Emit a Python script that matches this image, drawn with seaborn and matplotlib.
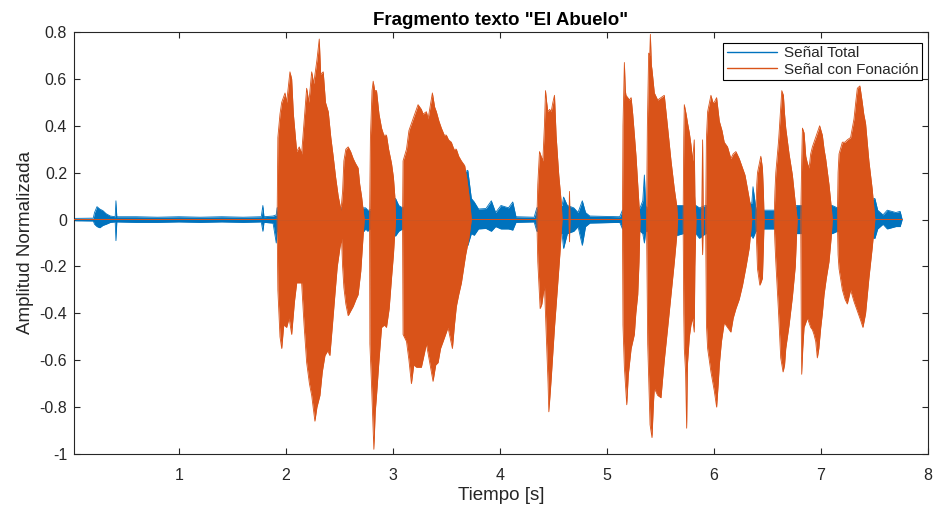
import numpy as np
import pandas as pd
import matplotlib
matplotlib.use("Agg")
import matplotlib.pyplot as plt
from matplotlib.lines import Line2D
import seaborn as sns

# ---------------- data (envelopes) ----------------
TITLE = 'Fragmento texto "El Abuelo"'
XLABEL = "Tiempo [s]"
YLABEL = "Amplitud Normalizada"
SERIES = ["Señal Total", "Señal con Fonación"]
XTICKS = [1, 2, 3, 4, 5, 6, 7, 8]
YTICKS = [0.8, 0.6, 0.4, 0.2, 0, -0.2, -0.4, -0.6, -0.8, -1]
YTICKLABELS = ["0.8", "0.6", "0.4", "0.2", "0", "-0.2", "-0.4", "-0.6", "-0.8", "-1"]

# Señal Total: time, upper envelope, lower envelope (visible unvoiced parts)
total_env = np.array([
    [0.030, 0.005, -0.005], [0.200, 0.006, -0.006], [0.212, 0.030, -0.020],
    [0.235, 0.055, -0.030], [0.260, 0.045, -0.035], [0.290, 0.038, -0.025],
    [0.320, 0.025, -0.020], [0.360, 0.015, -0.012], [0.405, 0.012, -0.010],
    [0.412, 0.080, -0.090], [0.420, 0.012, -0.010], [0.600, 0.012, -0.012],
    [0.800, 0.010, -0.012], [1.000, 0.012, -0.010], [1.200, 0.010, -0.012],
    [1.400, 0.012, -0.010], [1.600, 0.010, -0.012], [1.770, 0.012, -0.010],
    [1.785, 0.060, -0.050], [1.795, 0.012, -0.012], [1.880, 0.015, -0.015],
    [1.910, 0.020, -0.100], [1.918, 0.050, -0.050], [2.730, 0.050, -0.050],
    [2.745, 0.050, -0.040], [2.765, 0.040, -0.050], [2.782, 0.040, -0.040],
    [3.025, 0.090, -0.070], [3.055, 0.060, -0.050], [3.090, 0.050, -0.040],
    [3.700, 0.210, -0.110], [3.733, 0.090, -0.060], [3.760, 0.075, -0.067],
    [3.800, 0.045, -0.040], [3.870, 0.047, -0.038], [3.920, 0.080, -0.050],
    [3.960, 0.030, -0.030], [4.010, 0.060, -0.040], [4.080, 0.050, -0.040],
    [4.120, 0.075, -0.045], [4.150, 0.012, -0.012], [4.320, 0.010, -0.010],
    [4.345, 0.050, -0.050], [4.581, 0.060, -0.060], [4.595, 0.096, -0.123],
    [4.630, 0.060, -0.060], [4.690, 0.050, -0.050], [4.730, 0.030, -0.030],
    [4.770, 0.080, -0.110], [4.800, 0.030, -0.030], [4.840, 0.015, -0.015],
    [5.120, 0.012, -0.012], [5.145, 0.040, -0.040], [5.310, 0.050, -0.050],
    [5.335, 0.080, -0.060], [5.350, 0.190, -0.100], [5.362, 0.060, -0.050],
    [5.370, 0.050, -0.050], [5.661, 0.060, -0.067], [5.712, 0.060, -0.060],
    [5.832, 0.060, -0.060], [5.864, 0.050, -0.080], [5.922, 0.060, -0.060],
    [6.354, 0.070, -0.070], [6.365, 0.140, -0.080], [6.391, 0.050, -0.050],
    [6.469, 0.040, -0.040], [6.562, 0.040, -0.040], [6.778, 0.060, -0.060],
    [6.811, 0.060, -0.060], [7.106, 0.060, -0.060], [7.153, 0.050, -0.050],
    [7.504, 0.090, -0.080], [7.530, 0.040, -0.040], [7.580, 0.020, -0.020],
    [7.620, 0.040, -0.040], [7.700, 0.030, -0.030], [7.740, 0.035, -0.030],
    [7.759, 0.000, 0.000],
])

# Señal con Fonación: upper envelope (time, value)
voiced_upper = np.array([
    [0.020, 0.00], [1.918, 0.00], [1.925, 0.35], [1.945, 0.45], [1.961, 0.50],
    [1.992, 0.54], [2.007, 0.50], [2.038, 0.63], [2.054, 0.60], [2.070, 0.45],
    [2.101, 0.29], [2.125, 0.31], [2.147, 0.28], [2.170, 0.42], [2.194, 0.56],
    [2.215, 0.50], [2.241, 0.63], [2.260, 0.58], [2.290, 0.68], [2.312, 0.77],
    [2.325, 0.62], [2.349, 0.63], [2.370, 0.50], [2.396, 0.46], [2.420, 0.35],
    [2.442, 0.27], [2.465, 0.18], [2.489, 0.10], [2.515, 0.04], [2.530, 0.12],
    [2.542, 0.25], [2.560, 0.30], [2.582, 0.31], [2.605, 0.29], [2.629, 0.26],
    [2.650, 0.24], [2.675, 0.22], [2.690, 0.15], [2.707, 0.10], [2.725, 0.03],
    [2.732, 0.00], [2.782, 0.00], [2.790, 0.35], [2.805, 0.55], [2.816, 0.59],
    [2.830, 0.55], [2.847, 0.55], [2.870, 0.45], [2.894, 0.39], [2.915, 0.36],
    [2.940, 0.36], [2.960, 0.30], [2.987, 0.24], [3.005, 0.18], [3.018, 0.10],
    [3.025, 0.00], [3.090, 0.00], [3.095, 0.25], [3.127, 0.30], [3.150, 0.38],
    [3.189, 0.43], [3.220, 0.47], [3.235, 0.49], [3.266, 0.47], [3.282, 0.45],
    [3.313, 0.46], [3.329, 0.43], [3.369, 0.54], [3.390, 0.48], [3.406, 0.46],
    [3.430, 0.42], [3.453, 0.39], [3.480, 0.36], [3.500, 0.36], [3.520, 0.34],
    [3.546, 0.33], [3.570, 0.30], [3.593, 0.30], [3.615, 0.27], [3.640, 0.25],
    [3.671, 0.23], [3.692, 0.17], [3.717, 0.08], [3.733, 0.00], [4.345, 0.00],
    [4.354, 0.15], [4.370, 0.29], [4.385, 0.27], [4.401, 0.25], [4.416, 0.40],
    [4.426, 0.55], [4.437, 0.50], [4.448, 0.46], [4.465, 0.47], [4.479, 0.46],
    [4.495, 0.50], [4.510, 0.53], [4.525, 0.36], [4.541, 0.25], [4.550, 0.19],
    [4.572, 0.08], [4.581, 0.00], [4.645, 0.00], [4.650, 0.12], [4.655, 0.00],
    [5.145, 0.00], [5.150, 0.40], [5.163, 0.67], [5.172, 0.55], [5.178, 0.53],
    [5.195, 0.52], [5.209, 0.51], [5.226, 0.52], [5.241, 0.45], [5.257, 0.36],
    [5.272, 0.27], [5.288, 0.15], [5.300, 0.06], [5.310, 0.00], [5.370, 0.00],
    [5.378, 0.40], [5.390, 0.71], [5.400, 0.70], [5.406, 0.79], [5.415, 0.66],
    [5.421, 0.64], [5.443, 0.54], [5.474, 0.51], [5.505, 0.52], [5.536, 0.53],
    [5.552, 0.46], [5.568, 0.39], [5.599, 0.25], [5.630, 0.13], [5.652, 0.06],
    [5.661, 0.00], [5.712, 0.00], [5.718, 0.35], [5.723, 0.49], [5.740, 0.45],
    [5.754, 0.41], [5.770, 0.37], [5.785, 0.32], [5.801, 0.25], [5.816, 0.34],
    [5.822, 0.10], [5.832, 0.00], [5.885, 0.00], [5.894, 0.34], [5.900, 0.00],
    [5.922, 0.00], [5.930, 0.35], [5.941, 0.46], [5.972, 0.53], [5.990, 0.50],
    [6.003, 0.50], [6.025, 0.52], [6.050, 0.42], [6.075, 0.38], [6.096, 0.33],
    [6.127, 0.31], [6.158, 0.26], [6.180, 0.28], [6.205, 0.29], [6.236, 0.26],
    [6.267, 0.22], [6.290, 0.19], [6.314, 0.13], [6.345, 0.05], [6.354, 0.00],
    [6.391, 0.00], [6.400, 0.15], [6.407, 0.20], [6.429, 0.25], [6.438, 0.27],
    [6.453, 0.22], [6.462, 0.12], [6.469, 0.00], [6.562, 0.00], [6.570, 0.12],
    [6.578, 0.20], [6.603, 0.33], [6.609, 0.37], [6.624, 0.48], [6.634, 0.55],
    [6.649, 0.53], [6.660, 0.45], [6.671, 0.39], [6.702, 0.28], [6.733, 0.19],
    [6.758, 0.08], [6.778, 0.00], [6.811, 0.00], [6.820, 0.25], [6.827, 0.39],
    [6.842, 0.37], [6.858, 0.27], [6.873, 0.24], [6.889, 0.22], [6.904, 0.28],
    [6.920, 0.31], [6.935, 0.33], [6.951, 0.35], [6.966, 0.37], [6.988, 0.40],
    [7.000, 0.38], [7.013, 0.36], [7.029, 0.30], [7.044, 0.26], [7.075, 0.15],
    [7.095, 0.06], [7.106, 0.00], [7.153, 0.00], [7.160, 0.20], [7.169, 0.28],
    [7.200, 0.33], [7.225, 0.33], [7.246, 0.34], [7.277, 0.35], [7.309, 0.43],
    [7.325, 0.50], [7.340, 0.56], [7.364, 0.57], [7.386, 0.50], [7.400, 0.45],
    [7.417, 0.41], [7.448, 0.25], [7.479, 0.13], [7.495, 0.05], [7.504, 0.00],
    [7.759, 0.00],
])

# Señal con Fonación: lower envelope (time, value)
voiced_lower = np.array([
    [0.020, 0.00], [1.918, 0.00], [1.925, -0.30], [1.945, -0.50], [1.961, -0.55],
    [1.980, -0.45], [2.007, -0.46], [2.030, -0.42], [2.054, -0.49], [2.080, -0.35],
    [2.101, -0.27], [2.147, -0.27], [2.170, -0.45], [2.194, -0.61], [2.220, -0.70],
    [2.241, -0.75], [2.271, -0.86], [2.290, -0.80], [2.318, -0.75], [2.340, -0.65],
    [2.365, -0.58], [2.390, -0.56], [2.411, -0.58], [2.435, -0.45], [2.458, -0.32],
    [2.480, -0.20], [2.505, -0.12], [2.520, -0.08], [2.530, -0.20], [2.542, -0.29],
    [2.560, -0.36], [2.582, -0.41], [2.605, -0.39], [2.629, -0.37], [2.655, -0.34],
    [2.675, -0.32], [2.700, -0.22], [2.720, -0.08], [2.732, 0.00], [2.782, 0.00],
    [2.785, -0.53], [2.800, -0.70], [2.822, -0.98], [2.835, -0.82], [2.847, -0.75],
    [2.870, -0.60], [2.894, -0.46], [2.920, -0.45], [2.940, -0.46], [2.965, -0.38],
    [2.987, -0.25], [3.005, -0.15], [3.025, 0.00], [3.090, 0.00], [3.095, -0.49],
    [3.127, -0.52], [3.150, -0.60], [3.173, -0.70], [3.195, -0.62], [3.220, -0.63],
    [3.266, -0.63], [3.290, -0.58], [3.313, -0.53], [3.340, -0.60], [3.375, -0.69],
    [3.400, -0.62], [3.422, -0.61], [3.445, -0.55], [3.469, -0.52], [3.500, -0.48],
    [3.515, -0.46], [3.556, -0.55], [3.575, -0.45], [3.593, -0.37], [3.615, -0.32],
    [3.640, -0.27], [3.680, -0.15], [3.710, -0.08], [3.733, 0.00], [4.345, 0.00],
    [4.354, -0.18], [4.376, -0.38], [4.392, -0.36], [4.416, -0.28], [4.426, -0.40],
    [4.438, -0.55], [4.450, -0.70], [4.457, -0.82], [4.470, -0.74], [4.479, -0.68],
    [4.510, -0.46], [4.541, -0.27], [4.560, -0.15], [4.581, 0.00], [4.645, 0.00],
    [4.650, -0.095], [4.655, 0.00], [5.145, 0.00], [5.150, -0.45], [5.163, -0.63],
    [5.185, -0.79], [5.200, -0.66], [5.226, -0.55], [5.256, -0.49], [5.270, -0.40],
    [5.288, -0.32], [5.300, -0.18], [5.310, 0.00], [5.370, 0.00], [5.381, -0.53],
    [5.395, -0.75], [5.403, -0.875], [5.421, -0.93], [5.435, -0.78], [5.443, -0.72],
    [5.474, -0.75], [5.505, -0.76], [5.520, -0.68], [5.536, -0.60], [5.568, -0.46],
    [5.599, -0.32], [5.630, -0.18], [5.652, -0.07], [5.661, 0.00], [5.712, 0.00],
    [5.718, -0.40], [5.723, -0.55], [5.735, -0.65], [5.745, -0.89], [5.752, -0.62],
    [5.770, -0.50], [5.785, -0.45], [5.801, -0.42], [5.816, -0.48], [5.822, -0.20],
    [5.832, 0.00], [5.885, 0.00], [5.894, -0.15], [5.900, 0.00], [5.922, 0.00],
    [5.930, -0.45], [5.941, -0.55], [5.972, -0.65], [6.003, -0.73], [6.025, -0.80],
    [6.040, -0.70], [6.050, -0.62], [6.070, -0.52], [6.096, -0.44], [6.127, -0.46],
    [6.158, -0.48], [6.180, -0.42], [6.205, -0.38], [6.236, -0.34], [6.267, -0.28],
    [6.300, -0.20], [6.330, -0.12], [6.354, 0.00], [6.391, 0.00], [6.400, -0.12],
    [6.407, -0.21], [6.429, -0.28], [6.438, -0.27], [6.453, -0.25], [6.462, -0.12],
    [6.469, 0.00], [6.562, 0.00], [6.570, -0.10], [6.578, -0.18], [6.603, -0.39],
    [6.624, -0.59], [6.646, -0.65], [6.660, -0.62], [6.671, -0.55], [6.702, -0.45],
    [6.733, -0.33], [6.760, -0.20], [6.778, 0.00], [6.811, 0.00], [6.816, -0.45],
    [6.820, -0.66], [6.830, -0.55], [6.842, -0.46], [6.858, -0.44], [6.873, -0.42],
    [6.889, -0.44], [6.904, -0.46], [6.920, -0.47], [6.935, -0.49], [6.951, -0.52],
    [6.966, -0.59], [6.980, -0.55], [6.998, -0.46], [7.013, -0.40], [7.029, -0.32],
    [7.050, -0.25], [7.075, -0.18], [7.095, -0.08], [7.106, 0.00], [7.153, 0.00],
    [7.160, -0.15], [7.169, -0.21], [7.200, -0.30], [7.225, -0.34], [7.246, -0.36],
    [7.277, -0.30], [7.309, -0.35], [7.340, -0.39], [7.371, -0.43], [7.392, -0.46],
    [7.417, -0.40], [7.448, -0.25], [7.479, -0.12], [7.504, 0.00], [7.759, 0.00],
])

# ---------------- styling ----------------
BLUE = "#0072BD"
ORANGE = "#D95319"
AX_COLOR = "#262626"

sns.set_style("ticks")
plt.rcParams["font.family"] = ["Liberation Sans", "DejaVu Sans"]
plt.rcParams["xtick.direction"] = "in"
plt.rcParams["ytick.direction"] = "in"

fig = plt.figure(figsize=(9.33, 5.12), dpi=100)
ax = fig.add_axes([0.0793, 0.1133, 0.9153, 0.8242])

df_total = pd.DataFrame(total_env, columns=["t", "up", "lo"])
df_vu = pd.DataFrame(voiced_upper, columns=["t", "v"])
df_vl = pd.DataFrame(voiced_lower, columns=["t", "v"])

# Señal Total
ax.fill_between(df_total["t"], df_total["lo"], df_total["up"], color=BLUE,
                linewidth=0, zorder=2)
sns.lineplot(data=df_total, x="t", y="up", ax=ax, color=BLUE, lw=0.6,
             estimator=None, sort=False, zorder=2)
sns.lineplot(data=df_total, x="t", y="lo", ax=ax, color=BLUE, lw=0.6,
             estimator=None, sort=False, zorder=2)

# Señal con Fonación
ax.fill_between(df_vu["t"], 0, df_vu["v"], color=ORANGE, linewidth=0, zorder=3)
ax.fill_between(df_vl["t"], df_vl["v"], 0, color=ORANGE, linewidth=0, zorder=3)
sns.lineplot(data=df_vu, x="t", y="v", ax=ax, color=ORANGE, lw=0.6,
             estimator=None, sort=False, zorder=3)
sns.lineplot(data=df_vl, x="t", y="v", ax=ax, color=ORANGE, lw=0.6,
             estimator=None, sort=False, zorder=3)

ax.set_xlim(0.02, 8)
ax.set_ylim(-1, 0.8)
ax.set_xticks(XTICKS)
ax.set_xticklabels([str(v) for v in XTICKS])
ax.set_yticks(YTICKS)
ax.set_yticklabels(YTICKLABELS)
ax.tick_params(axis="both", which="both", direction="in", length=4,
               width=0.8, colors=AX_COLOR, labelsize=11.5,
               top=True, right=True, labeltop=False, labelright=False)
ax.tick_params(axis="x", pad=10)
ax.tick_params(axis="y", pad=5)
for sp in ax.spines.values():
    sp.set_visible(True)
    sp.set_color(AX_COLOR)
    sp.set_linewidth(0.8)

ax.set_title(TITLE, fontsize=13.5, fontweight="bold", color="black", pad=5)
ax.set_xlabel(XLABEL, fontsize=13.5, color=AX_COLOR, labelpad=3)
ax.set_ylabel(YLABEL, fontsize=13.5, color=AX_COLOR, labelpad=4)

handles = [Line2D([0], [0], color=BLUE, lw=1.0),
           Line2D([0], [0], color=ORANGE, lw=1.0)]
leg = ax.legend(handles, SERIES, loc="upper right", bbox_to_anchor=(0.993, 0.975),
                borderaxespad=0, fontsize=11, frameon=True, fancybox=False,
                handlelength=3.3, handletextpad=0.4, borderpad=0.25,
                labelspacing=0.15)
leg.get_frame().set_edgecolor("black")
leg.get_frame().set_linewidth(0.8)
leg.get_frame().set_alpha(1)
for txt in leg.get_texts():
    txt.set_color(AX_COLOR)

fig.savefig("out.png", dpi=100, facecolor="white")
